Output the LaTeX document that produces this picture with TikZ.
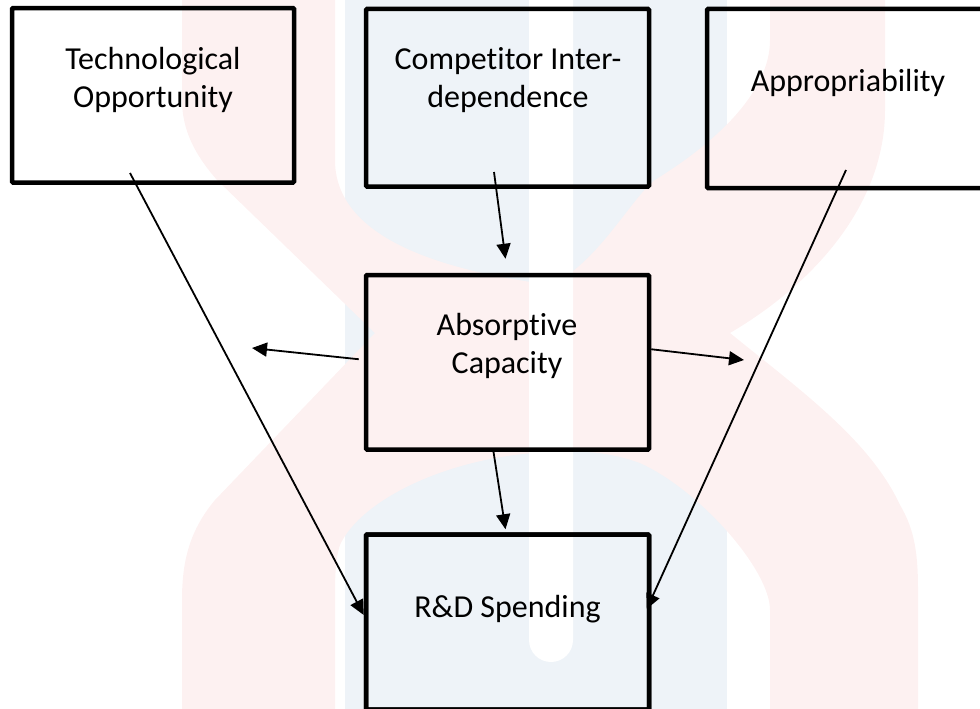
\documentclass[tikz,border=0pt]{standalone}
\usepackage{fontspec}
\setmainfont{Carlito}[Ligatures=NoCommon]
\usetikzlibrary{arrows.meta,calc}
\definecolor{wmpink}{RGB}{253,241,241}
\definecolor{wmblue}{RGB}{238,243,248}
\newcommand\twolines[2]{\vtop{\halign{\hfil##\hfil\cr#1\cr#2\cr}}}
\begin{document}
\begin{tikzpicture}[x=1pt,y=-1pt,
  box/.style={draw=black, line width=4.5pt, rounded corners=1pt, inner sep=0pt},
  lbl/.style={anchor=base, font=\fontsize{32}{38}\selectfont, inner sep=0pt},
  arr/.style={line width=1.8pt, -{Triangle[length=15pt,width=14pt]}}]
\useasboundingbox (0,0) rectangle (980,709);
\clip (0,0) rectangle (980,709);
% watermark
\fill[wmblue] (345,0) rectangle (727,709);
\fill[wmpink] (182,0) -- (335,0) -- (335,160)
  .. controls (335,230) and (420,268) .. (552,285)
  .. controls (600,260) and (630,200) .. (655,180)
  .. controls (720,140) and (770,90) .. (770,40) -- (770,0) -- (885,0) -- (885,110)
  .. controls (885,200) and (820,280) .. (730,333)
  .. controls (800,390) and (870,440) .. (900,505)
  .. controls (915,530) and (918,555) .. (918,590) -- (918,709) -- (770,709) -- (770,610)
  .. controls (770,570) and (700,490) .. (640,463)
  .. controls (610,452) and (580,450) .. (552,452)
  .. controls (450,455) and (360,500) .. (340,545)
  .. controls (335,560) and (335,580) .. (335,600) -- (335,709) -- (182,709) -- (182,600)
  .. controls (182,560) and (190,530) .. (215,500) -- (375,333) -- (217,180)
  .. controls (195,155) and (182,130) .. (182,100) -- cycle;
\fill[white] (529,0) -- (529,640) arc[start angle=180, end angle=360, radius=22pt] -- (573,0) -- cycle;
% connector free ends
\coordinate (techOut) at (130,173);
\coordinate (compOut) at (494,172);
\coordinate (appOut) at (846,170);
\coordinate (leftEnd) at (252,348);
\coordinate (rightEnd) at (744,360);
% boxes
\node[box, minimum width=282pt, minimum height=174.5pt] (tech) at (153,95.3) {};
\node[box, minimum width=283pt, minimum height=177.5pt] (comp) at (507.5,97.75) {};
\node[box, minimum width=293pt, minimum height=179pt] (approp) at (853.5,98.5) {};
\node[box, minimum width=283pt, minimum height=174.5pt] (ab) at (507.5,362.25) {};
\node[box, minimum width=283pt, minimum height=175pt] (rd) at (507.5,622) {};
% connectors
\draw[arr] (techOut) -- ([yshift=7pt]rd.west);
\draw[arr] (compOut) -- ([xshift=-2pt,yshift=14pt]ab.north);
\draw[arr] ([xshift=-5pt,yshift=3pt]ab.west) -- (leftEnd);
\draw[arr] ([yshift=13pt]ab.east) -- (rightEnd);
\draw[arr] ([xshift=-14pt]ab.south) -- ([xshift=-2pt,yshift=3pt]rd.north);
\draw[arr] (appOut) -- ([xshift=-4.5pt,yshift=13pt]rd.east);
% R&D border drawn again over the arrow tip that sits under it
\draw[line width=4.5pt, rounded corners=1pt] (rd.north west) ++(2.25pt,-2.25pt) rectangle ([xshift=-2.25pt,yshift=2.25pt]rd.south east);
% labels
\node[lbl] (techTxt) at (153,70) {\twolines{Technological}{Opportunity}};
\node[lbl] (compTxt) at (508,70) {\twolines{Competitor Inter-}{dependence}};
\node[lbl] (appTxt) at (848,92) {Appropriability};
\node[lbl] (abTxt) at (507,335) {\twolines{Absorptive}{Capacity}};
\node[lbl] (rdTxt) at (507.5,617) {R\&D Spending};
\end{tikzpicture}
\end{document}
